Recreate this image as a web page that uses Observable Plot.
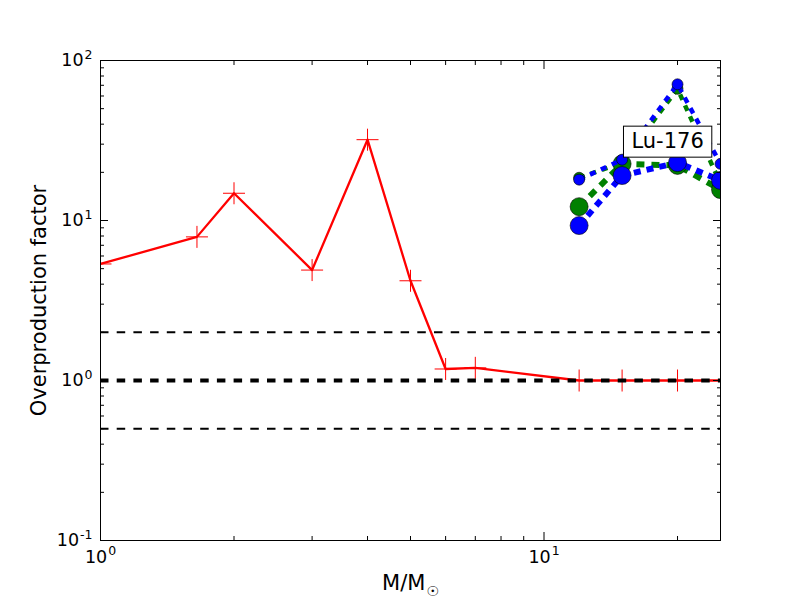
<!DOCTYPE html>
<html><head><meta charset="utf-8">
<script src="https://cdn.jsdelivr.net/npm/d3@7"></script>
<script src="https://cdn.jsdelivr.net/npm/@observablehq/plot@0.6"></script>
<style>
body{margin:0;background:#fff;}
#chart svg{font-family:"DejaVu Sans";}
</style></head><body><div id="chart"></div>
<script>
// ---- data ----
const masses = [1, 1.65, 2, 3, 4, 5, 6, 7, 12, 15, 20, 25];
const redValues = [5.35, 7.9, 14.8, 4.9, 32, 4.2, 1.18, 1.2, 1.0, 1.0, 1.0, 1.0];
const massiveMasses = [12, 15, 20, 25];
const blueSmall = [18, 24, 71, 22.6];
const blueBig = [9.3, 19.1, 23, 17.8];
const greenSmall = [18.5, 23, 66.5, 17];
const greenBig = [12.2, 22.6, 22.1, 15.6];
const refThin = [2, 0.5];
const refThick = [1];
const xMajor = [1, 10];
const xMinor = [2, 3, 4, 5, 6, 7, 8, 9, 20];
const yMajor = [0.1, 1, 10, 100];
const yMinor = [0.2,0.3,0.4,0.5,0.6,0.7,0.8,0.9,2,3,4,5,6,7,8,9,20,30,40,50,60,70,80,90];
const xLabel = "M/M☉";
const yLabel = "Overproduction factor";
const noteText = "Lu-176";
const noteX = 19;
const noteY = 31.2;

// ---- helpers ----
const fmt = v => "10^" + Math.round(Math.log10(v));
const blank = () => "";
const red = masses.map((m, i) => ({m, v: redValues[i]}));
const ser = arr => massiveMasses.map((m, i) => ({m, v: arr[i]}));
const plusSymbol = {draw(ctx, size) {
  const r = Math.sqrt(size / Math.PI);
  ctx.moveTo(-r, 0); ctx.lineTo(r, 0); ctx.moveTo(0, -r); ctx.lineTo(0, r);
}};
const BLUE = "#0000ff", GREEN = "#008000";

const lineDot = (arr, color, w, dash, r) => [
  Plot.line(ser(arr), {x: "m", y: "v", stroke: color, strokeWidth: w, strokeDasharray: dash, strokeLinecap: "butt", strokeLinejoin: "miter", clip: true}),
  Plot.dot(ser(arr), {x: "m", y: "v", r, fill: color, stroke: "black", strokeWidth: 0.6, clip: true})
];

const chart = Plot.plot({
  width: 800, height: 600,
  marginLeft: 100, marginRight: 80, marginTop: 60, marginBottom: 60,
  style: {fontFamily: "DejaVu Sans", fontSize: "17px", background: "white", overflow: "visible"},
  x: {type: "log", domain: [1, 25]},
  y: {type: "log", domain: [0.1, 100]},
  marks: [
    Plot.line(red, {x: "m", y: "v", stroke: "#ff0000", strokeWidth: 2.3, clip: true}),
    Plot.dot(red, {x: "m", y: "v", symbol: plusSymbol, r: 11, stroke: "#ff0000", strokeWidth: 1, fill: "none", clip: true}),
    Plot.ruleY(refThin, {y: d => d, stroke: "black", strokeWidth: 2, strokeDasharray: "8.5,8.2"}),
    Plot.ruleY(refThick, {y: d => d, stroke: "black", strokeWidth: 4, strokeDasharray: "8.5,8.2"}),
    ...lineDot(greenSmall, GREEN, 4.5, "6,6", 5.5),
    ...lineDot(greenBig, GREEN, 6, "8,7", 9),
    ...lineDot(blueSmall, BLUE, 4.5, "6,6", 5.5),
    ...lineDot(blueBig, BLUE, 6, "7,6", 9),
    Plot.frame({stroke: "black", strokeWidth: 1}),
    Plot.axisX({anchor: "bottom", ticks: xMajor, tickSize: -8, tickPadding: 18, tickFormat: fmt, label: null, fontSize: 17.5}),
    Plot.axisX({anchor: "bottom", ticks: xMinor, tickSize: -4, tickFormat: blank, label: null}),
    Plot.axisX({anchor: "top", ticks: xMajor, tickSize: -8, tickFormat: blank, label: null}),
    Plot.axisX({anchor: "top", ticks: xMinor, tickSize: -4, tickFormat: blank, label: null}),
    Plot.axisY({anchor: "left", ticks: yMajor, tickSize: -8, tickPadding: 16, tickFormat: fmt, label: null, fontSize: 17.5}),
    Plot.axisY({anchor: "left", ticks: yMinor, tickSize: -4, tickFormat: blank, label: null}),
    Plot.axisY({anchor: "right", ticks: yMajor, tickSize: -8, tickFormat: blank, label: null}),
    Plot.axisY({anchor: "right", ticks: yMinor, tickSize: -4, tickFormat: blank, label: null}),
    Plot.text([xLabel], {frameAnchor: "bottom", dy: 43, text: d => d, fontSize: 21, fill: "black", textAnchor: "middle", lineAnchor: "middle"}),
    Plot.text([yLabel], {frameAnchor: "left", dx: -61, rotate: -90, text: d => d, fontSize: 21, fill: "black", textAnchor: "middle", lineAnchor: "middle"}),
    Plot.text([noteText], {x: () => noteX, y: () => noteY, text: d => d, fontSize: 21, fill: "black", textAnchor: "middle", lineAnchor: "middle"})
  ]
});
document.getElementById("chart").appendChild(chart);

// mathtext-like labels, box around annotation
d3.select(chart).selectAll("text").each(function() {
  const t = d3.select(this);
  const s = this.textContent;
  const m = /^10\^(-?\d+)$/.exec(s);
  if (m) {
    t.text(null);
    t.append("tspan").text("10");
    t.append("tspan").attr("font-size", 12.5).attr("dy", -7.5).attr("dx", 1).text(m[1]);
  } else if (s === xLabel) {
    t.text(null);
    t.append("tspan").text("M/M");
    t.append("tspan").attr("font-size", 14).attr("dy", 6).attr("dx", 1).text("☉");
  } else if (s === noteText) {
    const b = this.getBBox();
    const rect = document.createElementNS("http://www.w3.org/2000/svg", "rect");
    rect.setAttribute("x", b.x - 8);
    rect.setAttribute("y", b.y - 3);
    rect.setAttribute("width", b.width + 16);
    rect.setAttribute("height", b.height + 7);
    rect.setAttribute("fill", "white");
    rect.setAttribute("stroke", "black");
    rect.setAttribute("stroke-width", 1);
    const tr = this.getAttribute("transform");
    if (tr) rect.setAttribute("transform", tr);
    this.parentNode.insertBefore(rect, this);
  }
});
</script></body></html>
